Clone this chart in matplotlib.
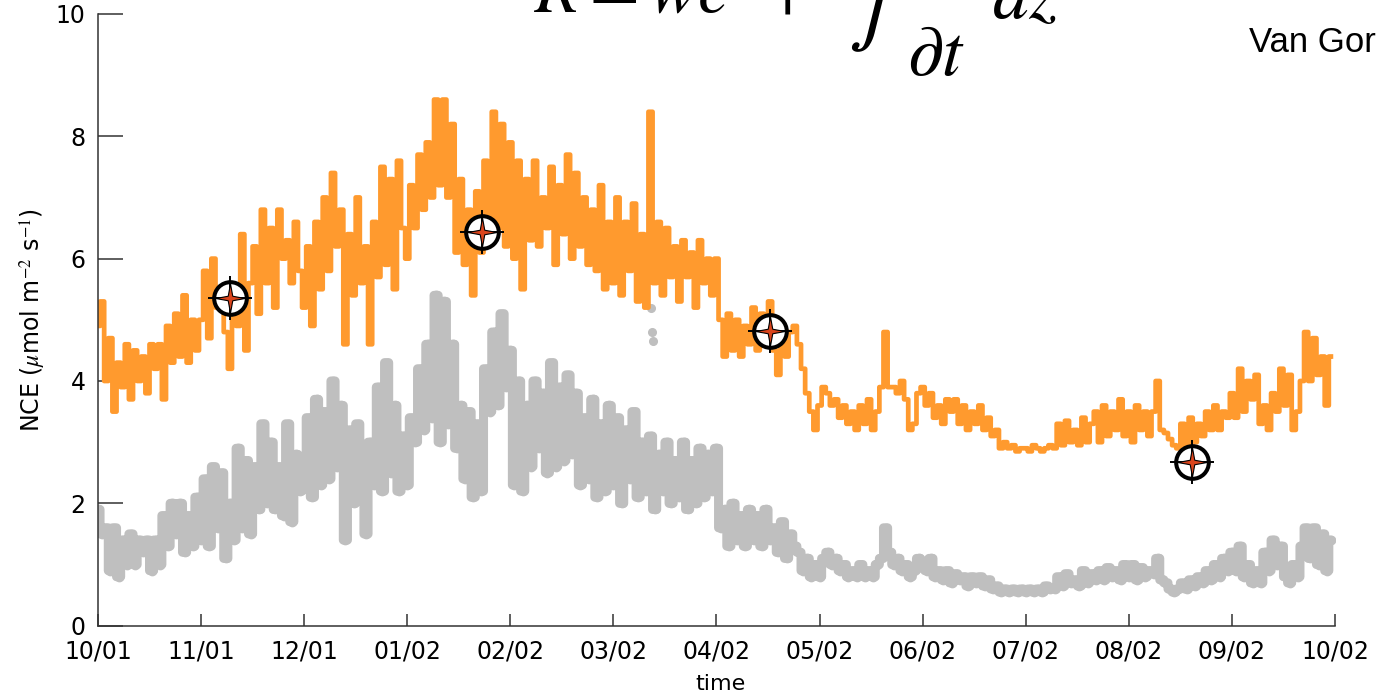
import numpy as np
import matplotlib.pyplot as plt
from matplotlib.path import Path

plt.rcParams['mathtext.fontset'] = 'stix'

# month ticks, Oct 2001 .. Oct 2002
month_labels = ['10/01', '11/01', '12/01', '01/02', '02/02', '03/02', '04/02',
                '05/02', '06/02', '07/02', '08/02', '09/02', '10/02']

# samples are 0.04 month apart, one row per month
nce_total = [
    4.9, 5.3, 4.0, 4.7, 3.5, 4.3, 3.9, 4.6, 3.7, 4.5, 4.0, 4.4, 3.8, 4.6, 4.2, 4.6, 3.7, 4.9, 4.3, 5.1, 4.4, 5.4, 4.3, 5.0, 4.5,
    5.0, 5.8, 4.7, 6.0, 5.2, 5.5, 4.8, 4.2, 5.3, 4.9, 6.4, 4.5, 5.6, 6.2, 5.1, 6.8, 5.6, 6.5, 5.2, 6.8, 6.0, 6.3, 5.6, 6.6, 5.8,
    5.2, 6.2, 4.9, 6.6, 5.5, 7.0, 5.8, 7.4, 6.2, 6.8, 4.6, 6.4, 5.4, 7.0, 5.6, 6.2, 4.6, 6.6, 5.7, 7.5, 5.9, 7.3, 5.5, 7.6, 6.5,
    6.0, 7.2, 6.5, 7.7, 6.8, 7.9, 7.0, 8.6, 7.2, 8.6, 7.0, 8.2, 6.1, 7.3, 5.9, 6.8, 5.4, 7.1, 6.1, 7.6, 6.6, 8.4, 6.5, 8.2, 6.2,
    7.9, 6.0, 7.6, 5.5, 7.3, 6.3, 7.6, 6.2, 7.0, 6.5, 7.5, 5.9, 7.2, 6.4, 7.7, 6.0, 7.4, 6.2, 7.0, 5.9, 6.8, 5.8, 7.2, 5.5, 6.6,
    5.6, 7.0, 5.4, 6.6, 5.8, 6.9, 5.3, 6.4, 5.2, 8.4, 5.6, 6.6, 5.4, 6.5, 5.7, 6.2, 5.3, 6.3, 5.7, 6.1, 5.2, 6.3, 5.6, 6.0, 5.4,
    6.0, 5.0, 4.4, 5.1, 4.5, 5.0, 4.4, 4.9, 4.6, 5.2, 4.5, 5.1, 4.7, 5.3, 4.5, 4.1, 4.9, 4.4, 4.8, 4.9, 4.6, 4.2, 3.8, 3.5, 3.2,
    3.6, 3.9, 3.8, 3.6, 3.7, 3.4, 3.6, 3.3, 3.5, 3.2, 3.6, 3.3, 3.7, 3.2, 3.5, 3.9, 4.8, 3.9, 3.9, 3.8, 4.0, 3.7, 3.2, 3.3, 3.8,
    3.9, 3.6, 3.8, 3.4, 3.6, 3.3, 3.7, 3.5, 3.7, 3.3, 3.6, 3.2, 3.5, 3.3, 3.6, 3.2, 3.4, 3.1, 3.2, 2.9, 3.0, 2.9, 2.95, 2.85, 2.9,
    2.9, 2.85, 2.95, 2.9, 2.85, 2.9, 2.95, 2.9, 3.3, 2.95, 3.35, 3.0, 3.2, 2.95, 3.4, 3.0, 3.3, 3.5, 3.0, 3.6, 3.1, 3.5, 3.2, 3.7, 3.1,
    3.5, 3.0, 3.6, 3.2, 3.5, 3.1, 3.5, 4.0, 3.2, 3.15, 3.05, 2.95, 2.9, 3.3, 2.95, 3.4, 3.0, 3.3, 3.1, 3.5, 3.2, 3.6, 3.2, 3.5, 3.4,
    3.8, 3.4, 4.2, 3.5, 4.0, 3.7, 4.1, 3.3, 3.6, 3.2, 3.8, 3.5, 4.2, 3.6, 4.1, 3.2, 3.5, 4.0, 4.8, 4.0, 4.7, 4.1, 4.4, 3.6, 4.4,
]

nce_eddy = [
    1.9, 1.5, 1.6, 0.9, 1.6, 0.8, 1.4, 1.0, 1.5, 1.0, 1.4, 1.2, 1.4, 0.9, 1.4, 1.0, 1.8, 1.3, 2.0, 1.5, 2.0, 1.2, 1.8, 1.3, 2.1,
    1.4, 2.4, 1.3, 2.6, 1.6, 2.5, 1.1, 2.0, 1.4, 2.9, 1.6, 2.7, 1.5, 2.6, 1.9, 3.3, 2.0, 3.0, 1.9, 2.6, 1.8, 3.3, 1.7, 2.8, 2.2,
    2.6, 3.4, 2.1, 3.7, 2.3, 3.5, 2.4, 4.0, 2.6, 3.6, 1.4, 3.2, 2.0, 3.3, 2.2, 1.5, 3.0, 2.3, 3.9, 2.2, 4.3, 2.5, 3.6, 2.2, 3.1,
    2.3, 3.4, 3.0, 4.2, 3.2, 4.6, 3.4, 5.4, 3.0, 5.3, 3.3, 4.6, 2.9, 3.6, 2.4, 3.5, 2.1, 3.3, 2.2, 4.2, 3.5, 4.8, 3.6, 5.1, 3.9,
    4.5, 2.3, 4.0, 2.2, 3.6, 2.6, 4.0, 2.9, 3.8, 2.5, 4.3, 2.6, 3.9, 2.7, 4.1, 2.8, 3.8, 2.3, 3.4, 2.4, 3.7, 2.1, 3.3, 2.2, 3.6,
    2.3, 3.4, 2.0, 3.2, 2.4, 3.5, 2.1, 3.0, 2.2, 3.1, 1.9, 2.8, 2.2, 3.0, 2.0, 2.7, 2.1, 3.0, 1.9, 2.7, 2.0, 2.9, 2.1, 2.8, 2.2,
    2.9, 1.6, 1.9, 1.3, 2.0, 1.4, 1.8, 1.3, 1.9, 1.4, 1.8, 1.3, 1.9, 1.4, 1.6, 1.2, 1.7, 1.1, 1.5, 1.3, 1.2, 0.9, 1.1, 0.8, 1.0,
    0.8, 1.1, 1.2, 1.0, 1.1, 0.9, 1.0, 0.8, 0.9, 0.8, 1.0, 0.8, 0.9, 0.8, 1.0, 1.1, 1.6, 1.2, 1.0, 1.1, 0.9, 1.0, 0.8, 0.9, 1.1,
    1.0, 0.9, 1.1, 0.8, 0.9, 0.75, 0.9, 0.7, 0.85, 0.75, 0.8, 0.65, 0.8, 0.7, 0.8, 0.65, 0.75, 0.6, 0.65, 0.55, 0.6, 0.55, 0.6, 0.55, 0.6,
    0.55, 0.6, 0.55, 0.6, 0.55, 0.65, 0.6, 0.6, 0.8, 0.65, 0.85, 0.7, 0.75, 0.65, 0.9, 0.7, 0.85, 0.75, 0.9, 0.75, 0.95, 0.8, 0.9, 0.75, 1.0,
    0.8, 1.0, 0.75, 0.95, 0.8, 0.9, 0.85, 1.1, 0.75, 0.7, 0.6, 0.55, 0.6, 0.7, 0.6, 0.75, 0.65, 0.8, 0.7, 0.9, 0.75, 1.0, 0.8, 1.1, 0.9,
    1.2, 0.9, 1.3, 0.8, 1.0, 0.7, 0.9, 0.7, 1.2, 0.9, 1.4, 1.0, 1.3, 0.8, 0.7, 1.0, 0.8, 1.3, 1.6, 1.1, 1.6, 1.0, 1.5, 0.9, 1.4,
]

# isolated eddy points in late March
stray_t = [5.36, 5.37, 5.38]
stray_nce = [5.2, 4.8, 4.65]

# chamber campaigns
chamber_t = [1.28, 3.73, 6.52, 10.61]
chamber_nce = [5.35, 6.43, 4.81, 2.67]

step = 0.04
t = np.arange(len(nce_total)) * step

# four-pointed sparkle for the chamber marker
ang = np.deg2rad(np.arange(0, 360, 45) + 90)
rad = np.tile([1.0, 0.22], 4)
sparkle = Path(np.column_stack([rad * np.cos(ang), rad * np.sin(ang)]).tolist() + [[0, 1]],
               closed=True)

fig = plt.figure(figsize=(13.78, 6.96), dpi=100)
ax = fig.add_axes([0.0711, 0.101, 0.8977, 0.879])

gray = '#bfbfbf'
ax.plot(t, nce_eddy, color=gray, lw=6.5, drawstyle='steps-mid', solid_capstyle='round',
        snap=False, zorder=1)
ax.plot(t, nce_eddy, 'o', color=gray, ms=6, zorder=1)
ax.plot(stray_t, stray_nce, 'o', color=gray, ms=5.5, zorder=1)
ax.plot(t, nce_total, color='#ff9a2e', lw=3.4, drawstyle='steps-mid', snap=False, zorder=2)

# chamber markers: open circle, crosshair, red sparkle
ax.plot(chamber_t, chamber_nce, 'o', ms=23.5, mfc='white', mec='black', mew=2.9, zorder=3)
ax.plot(chamber_t, chamber_nce, '+', ms=31, mec='black', mew=1.4, zorder=4)
ax.plot(chamber_t, chamber_nce, marker=sparkle, ls='none', ms=21, mfc='#d9441c', mec='black',
        mew=0.8, zorder=5)

ax.set_xlim(0, 12)
ax.set_ylim(0, 10)
ax.set_xticks(range(13))
ax.set_xticklabels(month_labels)
ax.set_yticks([0, 2, 4, 6, 8, 10])
ax.set_yticklabels(['0', '2', '4', '6', '8', '10'])

for s in ['top', 'right']:
    ax.spines[s].set_visible(False)
for s in ['left', 'bottom']:
    ax.spines[s].set_linewidth(1.1)
    ax.spines[s].set_color('#333333')

ax.tick_params(axis='y', direction='in', length=18, width=1.1, pad=9, labelsize=17, colors='#333333')
ax.tick_params(axis='x', direction='in', length=9, width=1.1, pad=10, labelsize=17, colors='#333333')
for lab in ax.get_xticklabels() + ax.get_yticklabels():
    lab.set_color('black')

fig.text(33 / 1378, 1 - 320 / 696, r'NCE ($\mu$mol m$^{-2}$ s$^{-1}$)', rotation=90,
         ha='center', va='center', fontsize=17)
fig.text(720 / 1378, 1 - 684 / 696, 'time', ha='center', va='center', fontsize=16)

# flux equation across the top
fig.text(534 / 1378, 1 - 12 / 696, r"$R = wc' +$", fontsize=52, ha='left', va='baseline')
fig.text(848 / 1378, 1 - 54 / 696, r"$\int$", fontsize=66, ha='left', va='bottom')
fig.text(907 / 1378, 1 - 75 / 696, r"$\partial t$", fontsize=52, ha='left', va='baseline')
fig.text(992 / 1378, 1 - 18 / 696, r"$dz$", fontsize=52, ha='left', va='baseline')

fig.text(1249 / 1378, 1 - 43 / 696, 'Van Gor', fontsize=25, family='Liberation Sans',
         ha='left', va='center')

fig.savefig('out.png', dpi=100)
